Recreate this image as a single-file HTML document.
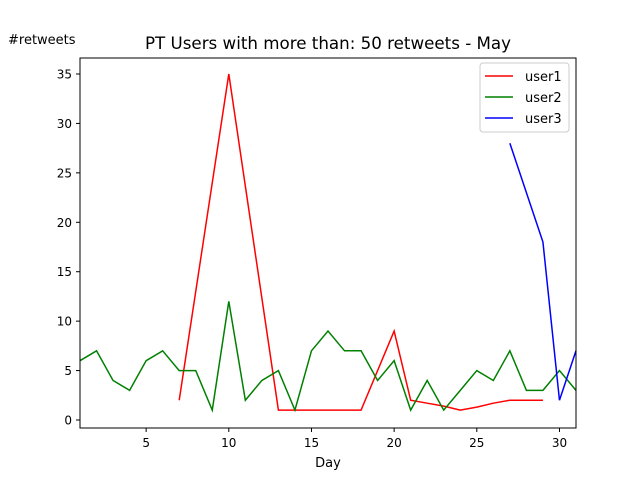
<!DOCTYPE html>
<html><head><meta charset="utf-8"><style>
body{margin:0;background:#fff}
svg{font-family:"DejaVu Sans","Liberation Sans",sans-serif}
</style></head><body>
<svg id="c" width="640" height="480">
<rect width="640" height="480" fill="#fff"/>
<text x="328" y="49" font-size="16.7" text-anchor="middle">PT Users with more than: 50 retweets - May</text>
<text x="8" y="44" font-size="13">#retweets</text>
<text x="328" y="467" font-size="13" text-anchor="middle">Day</text>
<g id="ticks"></g>
<g id="lines"></g>
<rect x="80" y="58" width="496" height="370" fill="none" stroke="#000" stroke-width="1"/>
<g>
<rect x="480" y="63" width="89" height="69" fill="#fff" stroke="#ccc" rx="3"/>
<line x1="485" y1="76" x2="513" y2="76" stroke="red" stroke-width="1.5"/>
<text x="525" y="81" font-size="13">user1</text>
<line x1="485" y1="97" x2="513" y2="97" stroke="green" stroke-width="1.5"/>
<text x="525" y="102" font-size="13">user2</text>
<line x1="485" y1="118" x2="513" y2="118" stroke="blue" stroke-width="1.5"/>
<text x="525" y="123" font-size="13">user3</text>
</g>
</svg>
<script>
const xTicks=[5,10,15,20,25,30];
const yTicks=[0,5,10,15,20,25,30,35];
const user1Days=[7,10,13,14,15,16,17,18,20,21,22,23,24,25,26,27,28,29];
const user1Vals=[2,35,1,1,1,1,1,1,9,2,1.7,1.4,1,1.3,1.7,2,2,2];
const user2Days=[1,2,3,4,5,6,7,8,9,10,11,12,13,14,15,16,17,18,19,20,21,22,23,24,25,26,27,28,29,30,31];
const user2Vals=[6,7,4,3,6,7,5,5,1,12,2,4,5,1,7,9,7,7,4,6,1,4,1,3,5,4,7,3,3,5,3];
const user3Days=[27,29,30,31];
const user3Vals=[28,18,2,7];
const NS="http://www.w3.org/2000/svg";
const X=d=>80+(d-1)*(496/30);
const Y=v=>420-v*(346/35);
const tg=document.getElementById('ticks');
function mk(t,a,p){const e=document.createElementNS(NS,t);for(const k in a)e.setAttribute(k,a[k]);p.appendChild(e);return e;}
xTicks.forEach(t=>{
  const l=mk('line',{x1:X(t),x2:X(t),y1:428,y2:432,stroke:'#000'},tg);
  
  
  const tx=mk('text',{x:X(t),y:447,'font-size':12,'text-anchor':'middle'},tg);tx.textContent=t;
  
  
});
yTicks.forEach(t=>{
  const l=mk('line',{x1:76,x2:80,y1:Y(t),y2:Y(t),stroke:'#000'},tg);
  
  
  const tx=mk('text',{x:72,y:Y(t)+4.5,'font-size':12,'text-anchor':'end'},tg);tx.textContent=t;
  
  
});
const lg=document.getElementById('lines');
function series(days,vals,color,name){
  const p=mk('polyline',{points:days.map((d,i)=>X(d)+','+Y(vals[i])).join(' '),fill:'none',stroke:color,'stroke-width':1.5},lg);
  
  
}
series(user1Days,user1Vals,'red','user1-line');
series(user2Days,user2Vals,'green','user2-line');
series(user3Days,user3Vals,'blue','user3-line');
</script>
</body></html>
